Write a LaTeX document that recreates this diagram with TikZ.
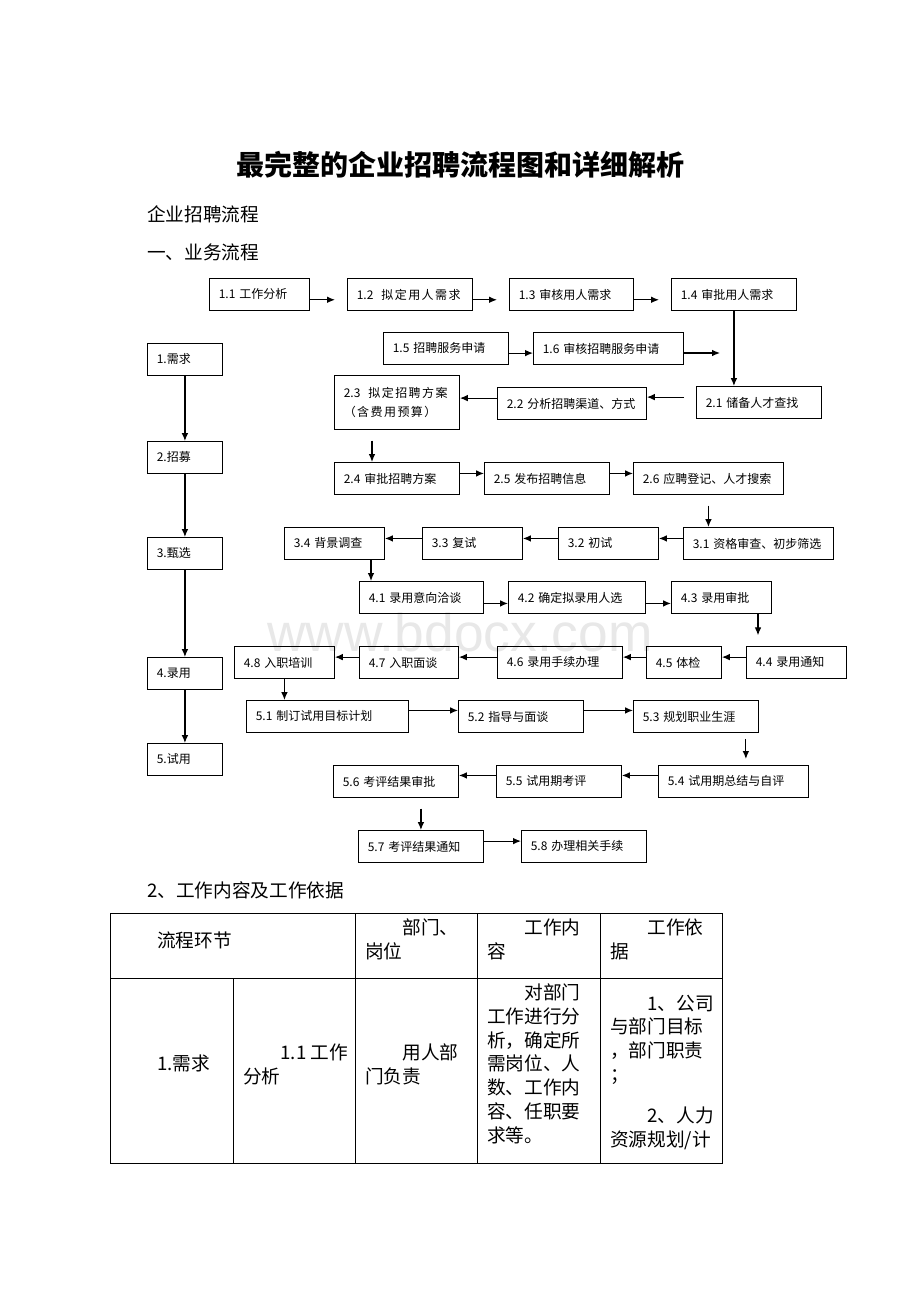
\documentclass[tikz,border=0pt]{standalone}
\usepackage{fontspec}
\setmainfont{Noto Sans CJK SC}
\newfontfamily\wmfont{Liberation Sans}
\usetikzlibrary{arrows.meta}
\newcommand\spreadtext{\addfontfeatures{LetterSpace=12}}

\begin{document}
\begin{tikzpicture}[x=0.75pt,y=-0.75pt,
  fb/.style={draw,line width=0.65pt,anchor=north west,minimum height=24pt,inner xsep=7pt,inner ysep=0pt,align=left,font=\fontsize{9}{11}\selectfont},
  bw/.style={text width=#1*0.75pt-14pt},
  arr/.style={line width=0.9pt,-{Latex[length=6pt,width=5pt]}},
  tab/.style={line width=0.75pt},
  tx/.style={anchor=base west,inner sep=0pt,align=left,font=\fontsize{14}{17.8}\selectfont},
  hd/.style={anchor=west,inner sep=0pt,font=\fontsize{14}{17}\selectfont}]
\fill[white] (0,0) rectangle (920,1302);
\useasboundingbox (0,0) rectangle (920,1302);

\node[text=black!9,font=\wmfont\fontsize{40}{40}\selectfont] (wm) at (460,632) {www.bdocx.com};

\node[font=\bfseries\fontsize{21}{24}\selectfont] (title) at (460,165) {最完整的企业招聘流程图和详细解析};
\node[hd] (sub) at (147,214) {企业招聘流程};
\node[hd] (sec1) at (147,252) {一、业务流程};
\node[hd] (sec2) at (147,890) {2、工作内容及工作依据};

\node[fb,bw=75] (s1) at (147,343) {1.需求};
\node[fb,bw=75] (s2) at (147,441) {2.招募};
\node[fb,bw=75] (s3) at (147,537) {3.甄选};
\node[fb,bw=75] (s4) at (147,657) {4.录用};
\node[fb,bw=75] (s5) at (147,743) {5.试用};

\node[fb,bw=100] (n11) at (209,278) {1.1 工作分析};
\node[fb,bw=125] (n12) at (347,278) {1.2\ \ {\spreadtext 拟定用人需求}};
\node[fb,bw=124] (n13) at (509,278) {1.3 审核用人需求};
\node[fb,bw=125] (n14) at (671,278) {1.4 审批用人需求};
\node[fb,bw=125] (n15) at (383,332) {1.5 招聘服务申请};
\node[fb,bw=150] (n16) at (533,332) {1.6 审核招聘服务申请};
\coordinate (e16) at (720,353);
\node[fb,bw=125,minimum height=40.5pt] (n23) at (334,375) {2.3\ \ {\spreadtext 拟定招聘方案}\\[3pt]{\spreadtext （含费用预算）}};
\node[fb,bw=149] (n22) at (497,387) {2.2 分析招聘渠道、方式};
\node[fb,bw=125] (n21) at (696,386) {2.1 储备人才查找};
\node[fb,bw=125] (n24) at (334,462) {2.4 审批招聘方案};
\node[fb,bw=125] (n25) at (484,462) {2.5 发布招聘信息};
\node[fb,bw=150] (n26) at (633,462) {2.6 应聘登记、人才搜索};
\node[fb,bw=100] (n34) at (284,527) {3.4 背景调查};
\node[fb,bw=100] (n33) at (422,527) {3.3 复试};
\node[fb,bw=100] (n32) at (558,527) {3.2 初试};
\node[fb,bw=150] (n31) at (683,527) {3.1 资格审查、初步筛选};
\node[fb,bw=124] (n41) at (359,581) {4.1 录用意向洽谈};
\node[fb,bw=137] (n42) at (508,581) {4.2 确定拟录用人选};
\node[fb,bw=100] (n43) at (671,581) {4.3 录用审批};
\node[fb,bw=100] (n48) at (234,646) {4.8 入职培训};
\node[fb,bw=99] (n47) at (359,646) {4.7 入职面谈};
\node[fb,bw=125] (n46) at (497,646) {4.6 录用手续办理};
\node[fb,bw=75] (n45) at (646,646) {4.5 体检};
\node[fb,bw=100] (n44) at (746,646) {4.4 录用通知};
\node[fb,bw=162] (n51) at (246,700) {5.1 制订试用目标计划};
\node[fb,bw=125] (n52) at (458,700) {5.2 指导与面谈};
\node[fb,bw=125] (n53) at (633,700) {5.3 规划职业生涯};
\node[fb,bw=125] (n56) at (333,765) {5.6 考评结果审批};
\node[fb,bw=125] (n55) at (496,765) {5.5 试用期考评};
\node[fb,bw=150] (n54) at (658,765) {5.4 试用期总结与自评};
\node[fb,bw=125] (n57) at (358,830) {5.7 考评结果通知};
\node[fb,bw=125] (n58) at (521,830) {5.8 办理相关手续};

\draw[arr] (s1) -- (s2);
\draw[arr] (s2) -- (s3);
\draw[arr] (s3) -- (s4);
\draw[arr] (s4) -- (s5);

\draw[arr,shorten >=9pt] ([yshift=-4pt]n11.east) -- ([yshift=-4pt]n11.east -| n12.west);
\draw[arr,shorten >=9pt] ([yshift=-4pt]n12.east) -- ([yshift=-4pt]n12.east -| n13.west);
\draw[arr,shorten >=9pt] ([yshift=-4pt]n13.east) -- ([yshift=-4pt]n13.east -| n14.west);
\draw[arr] ([yshift=-3.5pt]n15.east) -- ([yshift=-3.5pt]n15.east -| n16.west);
\draw[arr] (n16.east |- e16) -- (e16);
\draw[arr] (n14.south) -- (n14.south |- n21.north);
\draw[arr,shorten <=9pt] ([yshift=4pt]n21.west) -- ([yshift=4pt]n21.west -| n22.east);
\draw[arr] ([yshift=4pt]n22.west) -- ([yshift=4pt]n22.west -| n23.east);
\draw[arr,shorten <=8pt] ([xshift=28.5pt]n23.south west) -- ([xshift=28.5pt]n24.north west);
\draw[arr] ([yshift=3.75pt]n24.east) -- ([yshift=3.75pt]n24.east -| n25.west);
\draw[arr] ([yshift=3.75pt]n25.east) -- ([yshift=3.75pt]n25.east -| n26.west);
\draw[arr,shorten <=8pt] (n26.south) -- (n26.south |- n31.north);
\draw[arr] ([yshift=3.75pt]n31.west) -- ([yshift=3.75pt]n31.west -| n32.east);
\draw[arr] ([yshift=3.75pt]n32.west) -- ([yshift=3.75pt]n32.west -| n33.east);
\draw[arr] ([yshift=3.75pt]n33.west) -- ([yshift=3.75pt]n33.west -| n34.east);
\draw[arr] ([xshift=9pt]n41.north west |- n34.south) -- ([xshift=9pt]n41.north west);
\draw[arr] ([yshift=-4.5pt]n41.east) -- ([yshift=-4.5pt]n41.east -| n42.west);
\draw[arr] ([yshift=-4.5pt]n42.east) -- ([yshift=-4.5pt]n42.east -| n43.west);
\draw[arr,shorten >=8pt] ([xshift=9pt]n44.north west |- n43.south) -- ([xshift=9pt]n44.north west);
\draw[arr] ([yshift=4pt]n44.west) -- ([yshift=4pt]n44.west -| n45.east);
\draw[arr] ([yshift=4pt]n45.west) -- ([yshift=4pt]n45.west -| n46.east);
\draw[arr] ([yshift=4pt]n46.west) -- ([yshift=4pt]n46.west -| n47.east);
\draw[arr] ([yshift=4pt]n47.west) -- ([yshift=4pt]n47.west -| n48.east);
\draw[arr] (n48.south) -- (n48.south |- n51.north);
\draw[arr] ([yshift=4.5pt]n51.east) -- ([yshift=4.5pt]n51.east -| n52.west);
\draw[arr] ([yshift=4.5pt]n52.east) -- ([yshift=4.5pt]n52.east -| n53.west);
\draw[arr,shorten <=4.5pt,shorten >=4.5pt] ([xshift=-9.75pt]n53.south east) -- ([xshift=-9.75pt]n53.south east |- n54.north);
\draw[arr] ([yshift=4.5pt]n54.west) -- ([yshift=4.5pt]n54.west -| n55.east);
\draw[arr] ([yshift=4.5pt]n55.west) -- ([yshift=4.5pt]n55.west -| n56.east);
\draw[arr,shorten <=8pt] (n57.north |- n56.south) -- (n57.north);
\draw[arr] ([yshift=4pt]n57.east) -- ([yshift=4pt]n57.east -| n58.west);

\draw[tab] (110,913) rectangle (722,1163);
\draw[tab] (110,978) -- (722,978);
\draw[tab] (233,978) -- (233,1163);
\draw[tab] (355,913) -- (355,1163);
\draw[tab] (477,913) -- (477,1163);
\draw[tab] (600,913) -- (600,1163);

\node[tx] (c1) at (157,947) {流程环节};
\node[tx] (c2) at (365,958) {\hspace*{2em}部门、\\岗位};
\node[tx] (c3) at (487,958) {\hspace*{2em}工作内\\容};
\node[tx] (c4) at (610,958) {\hspace*{2em}工作依\\据};
\node[tx] (c5) at (157,1070) {1.需求};
\node[tx] (c6) at (243,1083) {\hspace*{2em}1.1 工作\\分析};
\node[tx] (c7) at (365,1083) {\hspace*{2em}用人部\\门负责};
\node[tx] (c8) at (487,1142) {\hspace*{2em}对部门\\工作进行分\\析，确定所\\需岗位、人\\数、工作内\\容、任职要\\求等。};
\node[tx] (c9) at (610,1146) {\hspace*{2em}1、公司\\与部门目标\\，部门职责\\；\\[13pt]\hspace*{2em}2、人力\\资源规划/计};
\end{tikzpicture}
\end{document}
